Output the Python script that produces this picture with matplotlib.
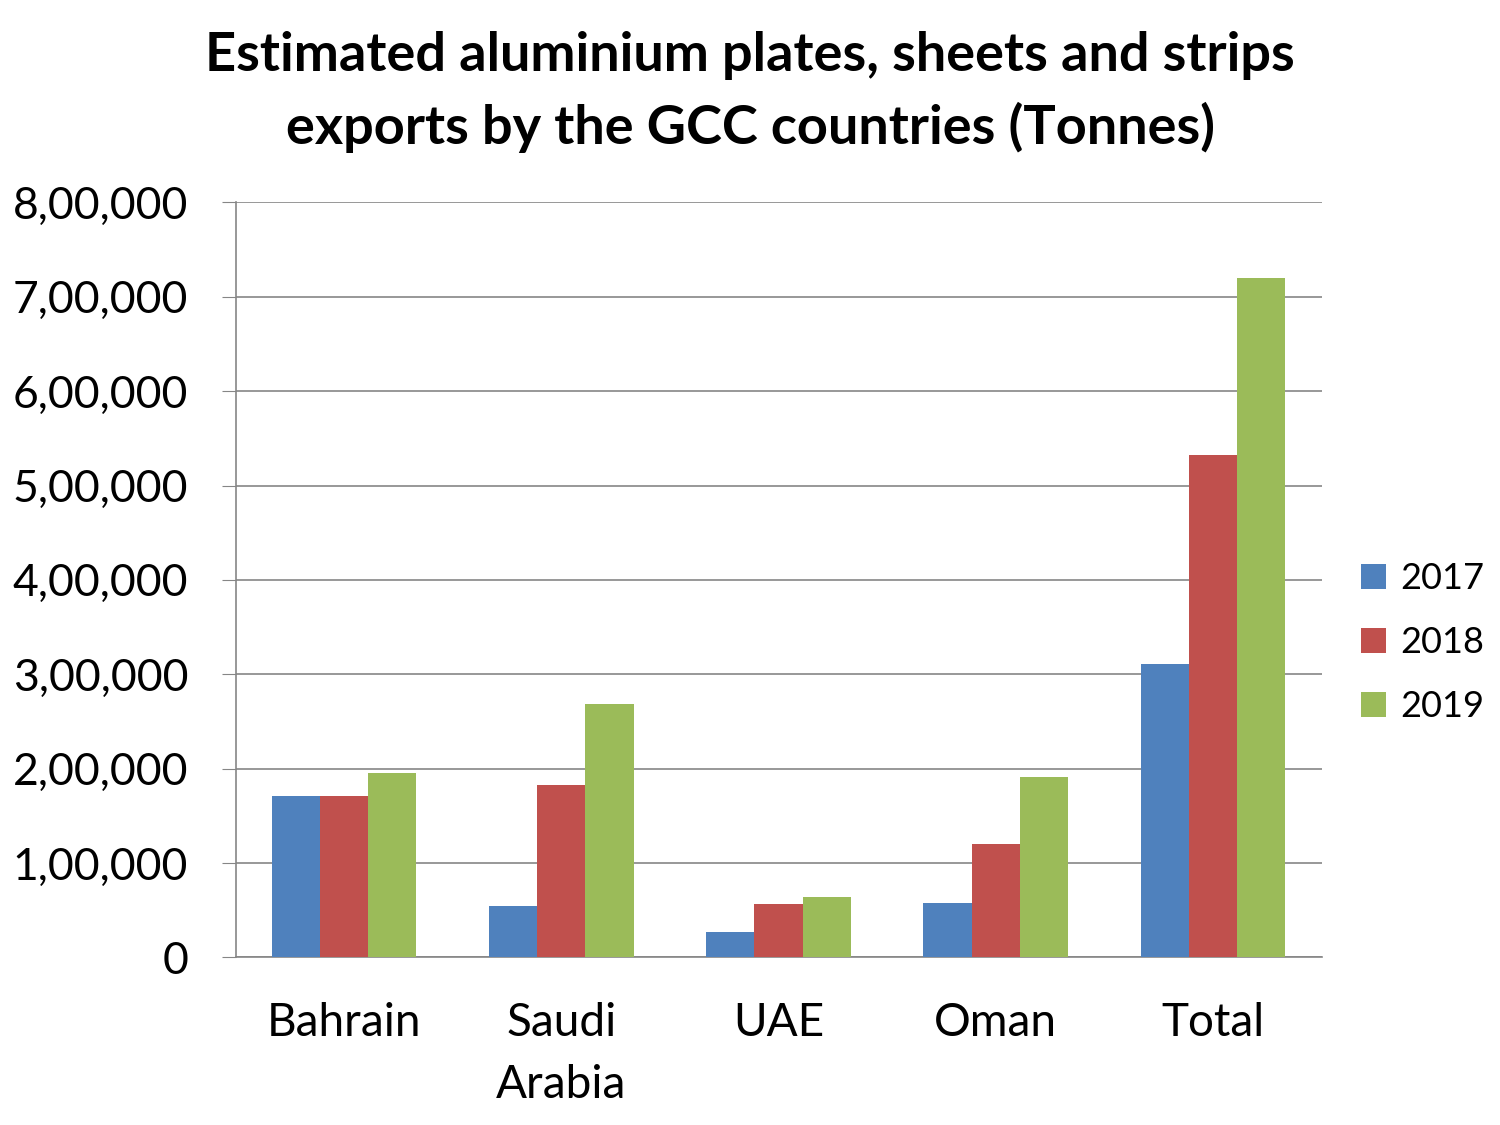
"""GCC aluminium plates, sheets and strips exports - grouped bars."""
import matplotlib.pyplot as plt
import numpy as np
from matplotlib.ticker import FuncFormatter

countries = ["Bahrain", "Saudi\nArabia", "UAE", "Oman", "Total"]
years = ["2017", "2018", "2019"]
exports_2017 = [170500, 54000, 26500, 58000, 311000]
exports_2018 = [170500, 183000, 57000, 120000, 532000]
exports_2019 = [195000, 269000, 63500, 191000, 720000]
y_ticks = [0, 100000, 200000, 300000, 400000, 500000, 600000, 700000, 800000]

colors = ["#4F81BD", "#C0504D", "#9BBB59"]

plt.rcParams["font.family"] = ["Lato", "DejaVu Sans"]


def indian_format(v, _pos=None):
    v = int(round(v))
    if v == 0:
        return "0"
    s = str(v)
    last3, rest = s[-3:], s[:-3]
    parts = []
    while len(rest) > 2:
        parts.insert(0, rest[-2:])
        rest = rest[:-2]
    if rest:
        parts.insert(0, rest)
    return ",".join(parts + [last3])


fig = plt.figure(figsize=(15, 11.25), dpi=100)
ax = fig.add_axes([0.157, 0.149, 0.724, 0.671])

x = np.arange(len(countries))
width = 0.222
for i, (vals, year) in enumerate(zip([exports_2017, exports_2018, exports_2019], years)):
    ax.bar(x + (i - 1) * width, vals, width, color=colors[i], label=year, zorder=3)

ax.set_xlim(-0.5, len(countries) - 0.5)
ax.set_ylim(0, 800000)
ax.set_yticks(y_ticks)
ax.yaxis.set_major_formatter(FuncFormatter(indian_format))
ax.set_xticks(x)
ax.set_xticklabels(countries, fontsize=33, linespacing=1.6)
ax.tick_params(axis="x", length=0, pad=32)
ax.tick_params(axis="y", labelsize=32, length=10, color="#868686", pad=24)

ax.grid(axis="y", color="#868686", linewidth=1.2, zorder=0)
for side in ["top", "right"]:
    ax.spines[side].set_visible(False)
ax.spines["left"].set_color("#868686")
ax.spines["bottom"].set_color("#868686")
ax.spines["left"].set_linewidth(1.2)
ax.spines["bottom"].set_linewidth(1.2)

ax.legend(
    loc="center left",
    bbox_to_anchor=(1.006, 0.417),
    frameon=False,
    fontsize=26,
    handlelength=0.7,
    handleheight=0.7,
    handletextpad=0.4,
    labelspacing=0.85,
)

fig.suptitle(
    "Estimated aluminium plates, sheets and strips\nexports by the GCC countries (Tonnes)",
    fontsize=39,
    fontweight="bold",
    x=0.5,
    y=0.972,
    linespacing=1.5,
)

fig.savefig("out.png", dpi=100)
